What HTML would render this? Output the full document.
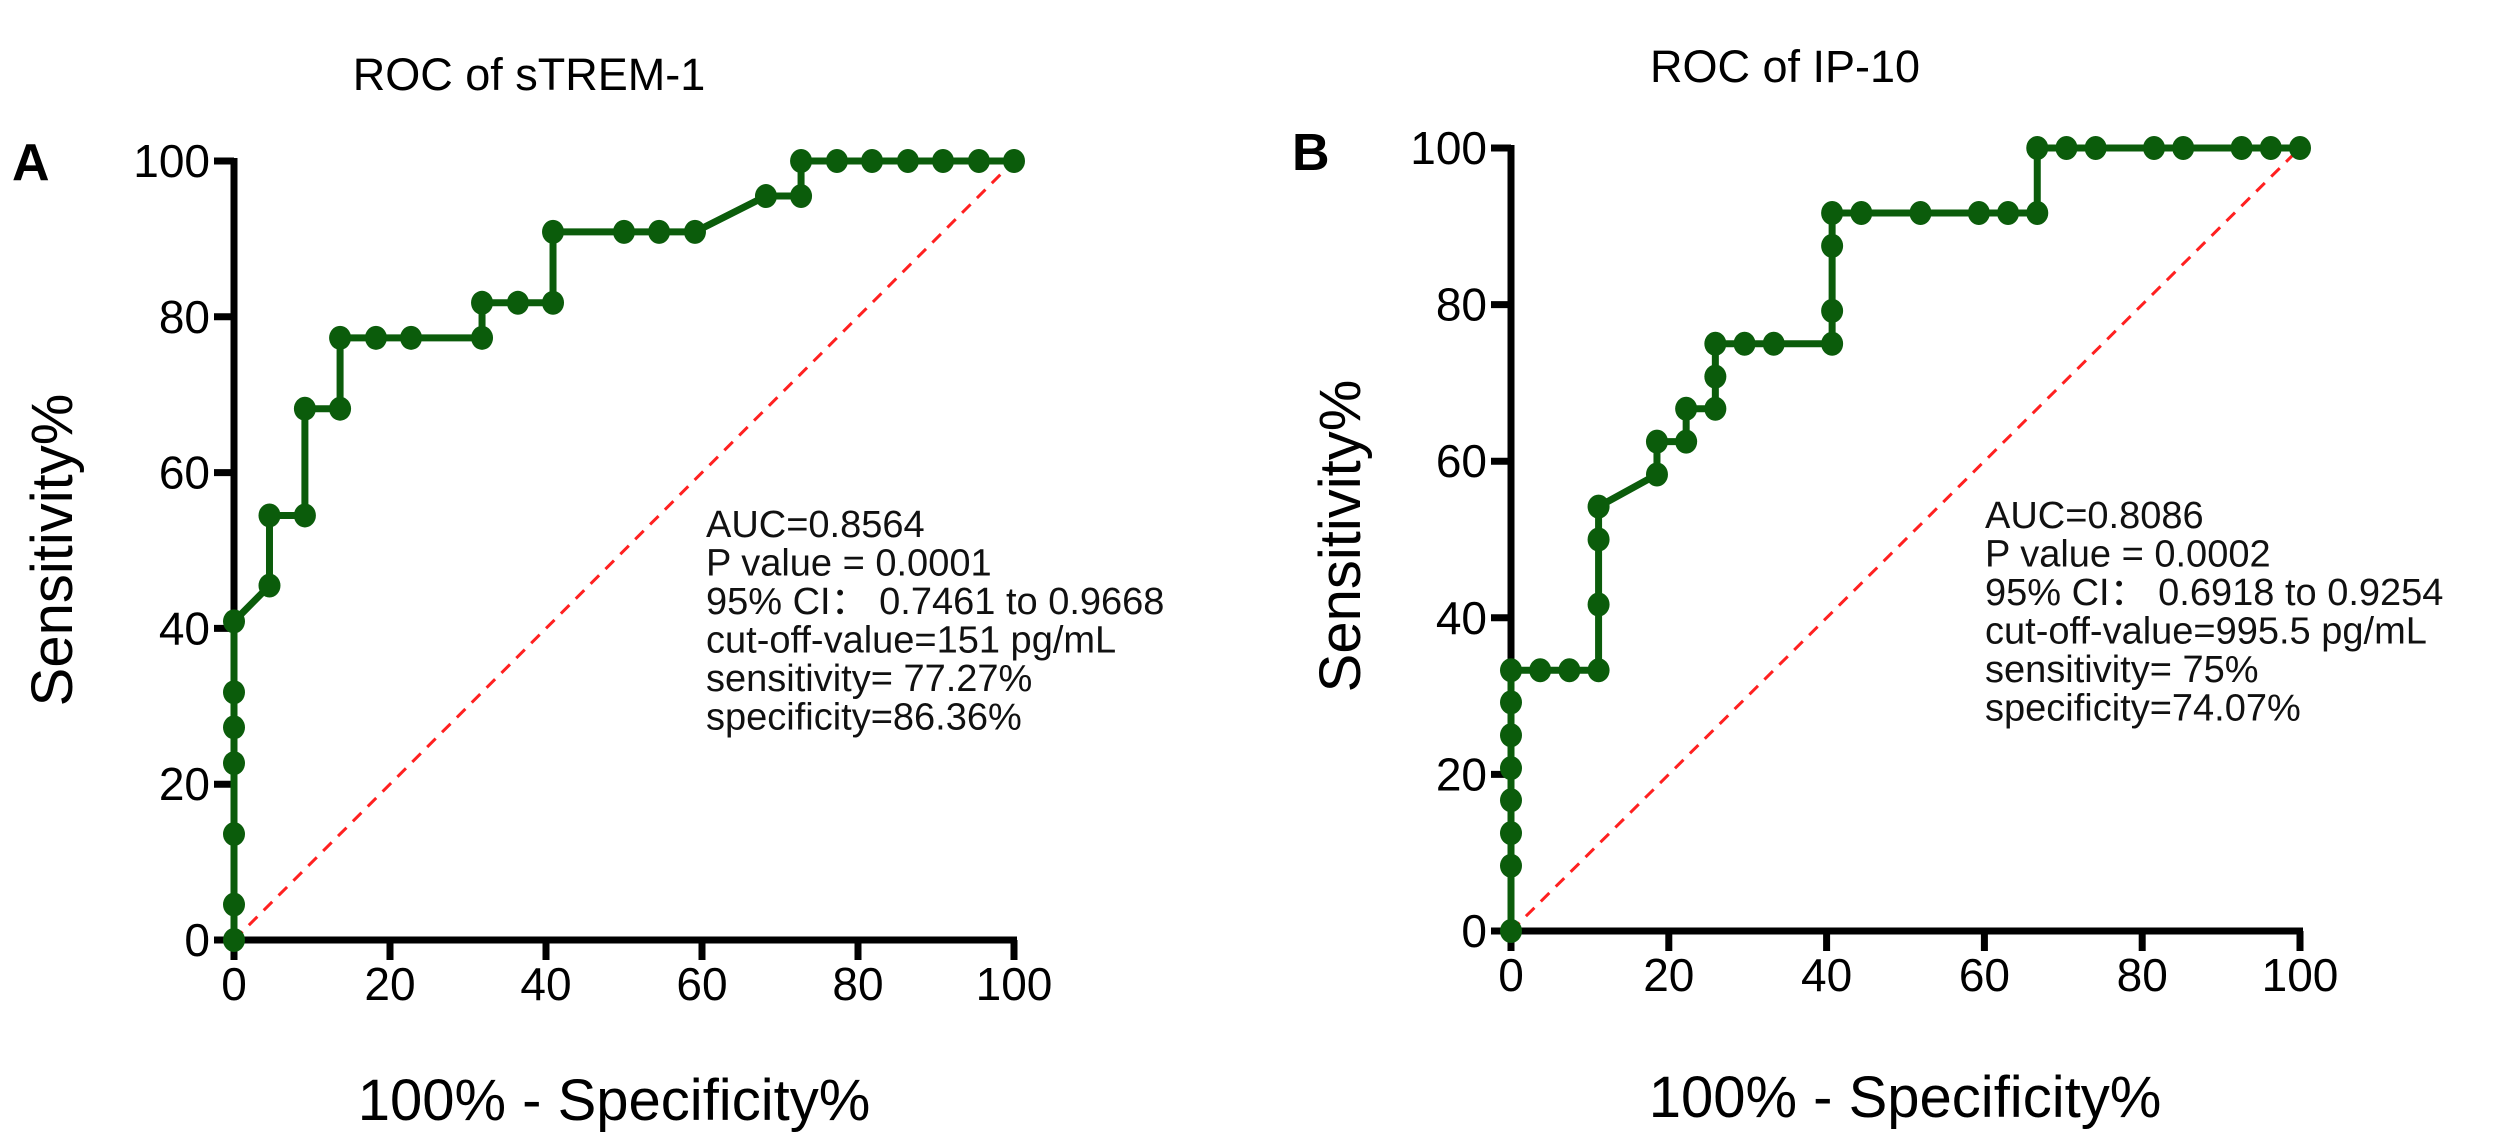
<!DOCTYPE html>
<html><head><meta charset="utf-8"><style>
html,body{margin:0;padding:0;background:#fff;}
svg{display:block;font-family:"Liberation Sans",Arial,sans-serif;}
</style></head><body>
<svg id="fig" width="2500" height="1133" viewBox="0 0 2500 1133">
<text x="529" y="90" font-size="45" text-anchor="middle">ROC of sTREM-1</text>
<text x="1785" y="82" font-size="45" text-anchor="middle">ROC of IP-10</text>
<text x="12" y="180" font-size="52" font-weight="bold">A</text>
<text x="1292" y="170" font-size="52" font-weight="bold">B</text>
<g id="pa"></g>
<g id="pb"></g>
</svg>
<script>
const xTicks = [0, 20, 40, 60, 80, 100];
const yTicks = [0, 20, 40, 60, 80, 100];
const aX = [0,0,0,0,0,0,0,4.55,4.55,9.09,9.09,13.6,13.6,18.2,22.7,31.8,31.8,36.4,40.9,40.9,50,54.5,59.1,68.2,72.7,72.7,77.3,81.8,86.4,90.9,95.5,100];
const aY = [0,4.55,13.6,22.7,27.3,31.8,40.9,45.5,54.5,54.5,68.2,68.2,77.3,77.3,77.3,77.3,81.8,81.8,81.8,90.9,90.9,90.9,90.9,95.5,95.5,100,100,100,100,100,100,100];
const bX = [0,0,0,0,0,0,0,0,3.7,7.4,11.1,11.1,11.1,11.1,18.5,18.5,22.2,22.2,25.9,25.9,25.9,29.6,33.3,40.7,40.7,40.7,40.7,44.4,51.9,59.3,63,66.7,66.7,70.4,74.1,81.5,85.2,92.6,96.3,100];
const bY = [0,8.33,12.5,16.7,20.8,25,29.2,33.3,33.3,33.3,33.3,41.7,50,54.2,58.3,62.5,62.5,66.7,66.7,70.8,75,75,75,75,79.2,87.5,91.7,91.7,91.7,91.7,91.7,91.7,100,100,100,100,100,100,100,100];
const aText = ["AUC=0.8564","P value = 0.0001","95% CI\uff1a 0.7461 to 0.9668","cut-off-value=151 pg/mL","sensitivity= 77.27%","specificity=86.36%"];
const bText = ["AUC=0.8086","P value = 0.0002","95% CI\uff1a 0.6918 to 0.9254","cut-off-value=995.5 pg/mL","sensitivity= 75%","specificity=74.07%"];
const NS="http://www.w3.org/2000/svg";
function mk(parent, tag, attrs){const e=document.createElementNS(NS,tag);for(const k in attrs)e.setAttribute(k,attrs[k]);parent.appendChild(e);return e;}
function panel(g, cfg, xs, ys, lines, pfx){
  const sx=v=>cfg.x0+(cfg.x1-cfg.x0)*v/100;
  const sy=v=>cfg.y0-(cfg.y0-cfg.y1)*v/100;
  const d=mk(g,'line',{x1:sx(0),y1:sy(0),x2:sx(100),y2:sy(100),stroke:'#ff2020','stroke-width':3,'stroke-dasharray':'12 9'});
  
  
  const ya=mk(g,'line',{x1:cfg.x0,y1:cfg.y1-3,x2:cfg.x0,y2:cfg.y0+3,stroke:'#000','stroke-width':7});
  
  
  const xa=mk(g,'line',{x1:cfg.x0-3,y1:cfg.y0,x2:cfg.x1+3,y2:cfg.y0,stroke:'#000','stroke-width':7});
  
  
  yTicks.forEach(v=>{
    mk(g,'line',{x1:cfg.x0-20,y1:sy(v),x2:cfg.x0,y2:sy(v),stroke:'#000','stroke-width':7});
    const t=mk(g,'text',{x:cfg.x0-24,y:sy(v)+16,'font-size':46,'text-anchor':'end'});
    t.textContent=v;
    
    
  });
  xTicks.forEach(v=>{
    mk(g,'line',{x1:sx(v),y1:cfg.y0,x2:sx(v),y2:cfg.y0+20,stroke:'#000','stroke-width':7});
    const t=mk(g,'text',{x:sx(v),y:cfg.y0+60,'font-size':46,'text-anchor':'middle'});
    t.textContent=v;
    
    
  });
  const pts=xs.map((x,i)=>sx(x)+','+sy(ys[i])).join(' ');
  const pl=mk(g,'polyline',{points:pts,fill:'none',stroke:'#0b5c0b','stroke-width':7,'stroke-linejoin':'round'});
  
  
  xs.forEach((x,i)=>{
    const c=mk(g,'ellipse',{cx:sx(x),cy:sy(ys[i]),rx:11,ry:12,fill:'#0b5c0b'});
    
    
  });
  lines.forEach((s,i)=>{
    const t=mk(g,'text',{x:cfg.tx,y:cfg.ty+i*38.5,'font-size':38,fill:'#111'});
    t.textContent=s;
    
    
  });
  const yt=mk(g,'text',{x:0,y:0,'font-size':58,'text-anchor':'middle',transform:`translate(${cfg.ytx},${cfg.yty}) rotate(-90)`});
  yt.textContent='Sensitivity%';
  
  
  const xt=mk(g,'text',{x:cfg.xtx,y:cfg.xty,'font-size':58,'text-anchor':'middle'});
  xt.textContent='100% - Specificity%';
  
  
}
panel(document.getElementById('pa'),{x0:234,x1:1014,y0:940,y1:161,tx:706,ty:537,ytx:72,yty:550,xtx:614,xty:1120},aX,aY,aText,'a');
panel(document.getElementById('pb'),{x0:1511,x1:2300,y0:931,y1:148,tx:1985,ty:528,ytx:1360,yty:536,xtx:1905,xty:1117},bX,bY,bText,'b');
</script>
</body></html>
